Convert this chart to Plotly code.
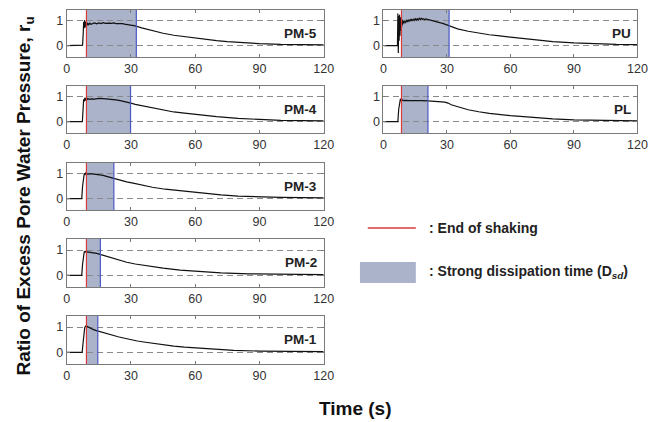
import plotly.graph_objects as go

# Pore-pressure ratio time histories (time in s, r_u)
pm5_t = [0, 5, 7.4, 7.7, 7.9, 8.1, 8.3, 8.5, 8.7, 8.9, 9.1, 9.3, 9.5, 9.7, 9.9, 10.3, 10.8, 11.3, 12, 13,
         14, 15, 16, 17, 18, 19, 20, 21, 22, 23, 24, 25, 26, 27, 28, 29, 30, 31, 32, 35,
         40, 45, 50, 55, 60, 65, 70, 75, 80, 90, 100, 110, 120]
pm5_ru = [0, 0, 0.02, 0.5, 0.95, 0.7, 1.03, 0.72, 0.97, 0.78, 0.95, 0.8, 0.93, 0.83, 0.9, 0.85, 0.91, 0.86, 0.89, 0.92,
          0.88, 0.92, 0.89, 0.93, 0.9, 0.92, 0.91, 0.9, 0.92, 0.89, 0.9, 0.88, 0.89, 0.87, 0.86, 0.85, 0.84, 0.82, 0.8, 0.72,
          0.6, 0.5, 0.42, 0.36, 0.3, 0.25, 0.2, 0.16, 0.13, 0.08, 0.05, 0.04, 0.03]

pm4_t = [0, 7.3, 7.6, 7.9, 8.2, 8.5, 8.8, 9.1, 9.4, 9.8, 10.5, 11.5, 13, 15, 17, 19, 21, 23, 25, 27,
         29, 30, 32, 35, 40, 45, 50, 55, 60, 70, 80, 90, 100, 120]
pm4_ru = [0, 0.0, 0.45, 0.9, 0.82, 0.97, 0.85, 0.95, 0.88, 0.93, 0.9, 0.92, 0.91, 0.94, 0.93, 0.92, 0.9, 0.88, 0.85, 0.82,
          0.78, 0.75, 0.7, 0.65, 0.55, 0.46, 0.39, 0.34, 0.29, 0.2, 0.13, 0.08, 0.05, 0.03]

pm3_t = [0, 7.0, 7.4, 7.8, 8.2, 8.6, 9.0, 9.5, 10, 11, 12, 13, 15, 17, 19, 21, 23, 25, 28, 31,
         35, 40, 46, 54, 62, 72, 80, 90, 100, 120]
pm3_ru = [0, 0.0, 0.5, 0.9, 1.02, 0.98, 1.05, 0.99, 1.0, 1.0, 1.0, 0.99, 0.98, 0.94, 0.89, 0.84, 0.79, 0.74, 0.68, 0.63,
          0.55, 0.46, 0.38, 0.3, 0.22, 0.15, 0.1, 0.07, 0.05, 0.03]

pm2_t = [0, 7.0, 7.4, 7.8, 8.2, 8.6, 9.0, 9.5, 10.5, 12, 14, 16, 19, 22, 25, 28, 32, 38, 45, 53,
         62, 72, 85, 100, 120]
pm2_ru = [0, 0.0, 0.45, 0.85, 0.95, 0.92, 0.96, 0.93, 0.92, 0.9, 0.87, 0.82, 0.74, 0.66, 0.59, 0.52, 0.45, 0.37, 0.29, 0.21,
          0.15, 0.1, 0.06, 0.04, 0.03]

pm1_t = [0, 7.2, 7.6, 8.0, 8.4, 8.8, 9.2, 9.6, 10, 11, 12, 13.5, 15, 17, 19, 21.5, 24, 27, 30, 33,
         36, 40, 44, 50, 55, 60, 66, 72, 78, 90, 100, 120]
pm1_ru = [0, 0.0, 0.35, 0.75, 0.98, 1.04, 1.06, 1.02, 1.0, 0.96, 0.92, 0.87, 0.83, 0.78, 0.73, 0.67, 0.62, 0.56, 0.5, 0.45,
          0.41, 0.36, 0.31, 0.25, 0.21, 0.18, 0.14, 0.11, 0.08, 0.05, 0.04, 0.03]

pu_t = [0, 6.6, 6.8, 7.0, 7.2, 7.4, 7.6, 7.8, 8.0, 8.2, 8.4, 8.6, 8.8, 9.0, 9.3, 9.6, 10, 10.5, 11, 11.5,
        12, 12.5, 13, 13.5, 14, 14.5, 15, 15.5, 16, 16.5, 17, 17.5, 18, 18.5, 19, 19.5, 20, 21, 22, 23,
        24, 25, 26, 27, 28, 29, 30, 31, 33, 35, 40, 45, 50, 55, 60, 70, 80, 90, 100, 110, 120]
pu_ru = [0, 0.0, 1.3, -0.3, 1.2, 0.2, 1.25, 0.4, 1.15, 0.6, 1.1, 0.75, 1.05, 0.85, 1.0, 0.9, 0.98, 0.93, 1.04, 0.96,
         1.05, 0.98, 1.08, 1.0, 1.07, 1.02, 1.1, 1.03, 1.09, 1.04, 1.12, 1.05, 1.1, 1.06, 1.09, 1.05, 1.08, 1.06, 1.05, 1.03,
         1.0, 0.98, 0.95, 0.92, 0.9, 0.87, 0.84, 0.8, 0.73, 0.68, 0.58, 0.5, 0.44, 0.39, 0.34, 0.24, 0.16, 0.11, 0.07, 0.05, 0.04]

pl_t = [0, 6.8, 7.2, 7.6, 8.0, 8.4, 8.8, 9.3, 10, 12, 15, 18, 21, 24, 27, 29, 30.5, 32, 36, 40,
        45, 50, 60, 70, 80, 90, 100, 120]
pl_ru = [0, 0.0, 0.5, 0.85, 0.92, 0.84, 0.88, 0.85, 0.86, 0.85, 0.86, 0.85, 0.84, 0.83, 0.81, 0.79, 0.75, 0.68, 0.58, 0.48,
         0.4, 0.33, 0.24, 0.16, 0.11, 0.07, 0.05, 0.03]

panel_names = ["PM-5", "PM-4", "PM-3", "PM-2", "PM-1", "PU", "PL"]
panel_t = [pm5_t, pm4_t, pm3_t, pm2_t, pm1_t, pu_t, pl_t]
panel_ru = [pm5_ru, pm4_ru, pm3_ru, pm2_ru, pm1_ru, pu_ru, pl_ru]
end_of_shaking = [9.2, 9.2, 9.2, 9.2, 9.2, 8.5, 8.5]      # s
dsd_end = [32.5, 29.8, 22.0, 15.7, 14.5, 31.0, 21.0]       # s, end of strong dissipation

x_ticks = [0, 30, 60, 90, 120]
y_ticks = [0, 1]

W, H = 671, 422
# panel boxes in pixels: (left, right, top, bottom)
boxes = [
    (65, 327, 10, 57), (65, 327, 86, 133), (65, 327, 163, 210),
    (65, 327, 239, 287), (65, 327, 316, 364),
    (388, 647, 10, 57), (388, 647, 86, 133),
]

FONT = "Liberation Sans, Arial, sans-serif"
SHADE = "#abb3cb"
RED = "#d93a3a"
BLUE = "#4a58c4"
FRAME = "#7a7a7a"

fig = go.Figure()
layout = dict(
    width=W, height=H, margin=dict(l=0, r=0, t=0, b=0),
    paper_bgcolor="white", plot_bgcolor="white", showlegend=False,
    font=dict(family=FONT, color="#333333"),
)
shapes, annotations = [], []

for i, name in enumerate(panel_names):
    k = i + 1
    xa = "xaxis" if k == 1 else f"xaxis{k}"
    ya = "yaxis" if k == 1 else f"yaxis{k}"
    xr = "x" if k == 1 else f"x{k}"
    yr = "y" if k == 1 else f"y{k}"
    l, r, t, b = boxes[i]
    layout[xa] = dict(
        domain=[l / W, r / W], anchor=yr, range=[0, 120],
        tickvals=x_ticks, ticks="inside", ticklen=3, tickcolor=FRAME,
        showline=True, linecolor=FRAME, linewidth=1, mirror="allticks",
        showgrid=False, zeroline=False,
        tickfont=dict(size=12.5, color="#333333", family=FONT),
    )
    layout[ya] = dict(
        domain=[1 - b / H, 1 - t / H], anchor=xr, range=[-0.46, 1.44],
        tickvals=y_ticks, ticks="inside", ticklen=3, tickcolor=FRAME,
        showline=True, linecolor=FRAME, linewidth=1, mirror="allticks",
        showgrid=True, gridcolor="#8a8a8a", gridwidth=1, griddash="6px,4px",
        zeroline=False,
        tickfont=dict(size=12.5, color="#333333", family=FONT),
    )
    fig.add_trace(go.Scatter(
        x=panel_t[i], y=panel_ru[i], mode="lines", xaxis=xr, yaxis=yr,
        line=dict(color="#111111", width=1.2), hoverinfo="skip",
    ))
    # strong-dissipation window, end of shaking and end of window
    shapes.append(dict(type="rect", xref=xr, yref=f"{yr} domain",
                       x0=end_of_shaking[i], x1=dsd_end[i], y0=0, y1=1,
                       fillcolor=SHADE, line=dict(width=0), layer="below"))
    shapes.append(dict(type="line", xref=xr, yref=f"{yr} domain",
                       x0=end_of_shaking[i], x1=end_of_shaking[i], y0=0, y1=1,
                       line=dict(color=RED, width=1.2), layer="above"))
    shapes.append(dict(type="line", xref=xr, yref=f"{yr} domain",
                       x0=dsd_end[i], x1=dsd_end[i], y0=0, y1=1,
                       line=dict(color=BLUE, width=1.2), layer="above"))
    annotations.append(dict(
        text=f"<b>{name}</b>", xref=f"{xr} domain", yref=yr, x=0.982, y=0.5,
        xanchor="right", yanchor="middle", showarrow=False,
        font=dict(size=13.5, color="#222222", family=FONT),
    ))

# legend key
shapes.append(dict(type="line", xref="paper", yref="paper",
                   x0=372 / W, x1=421 / W, y0=1 - 228 / H, y1=1 - 228 / H,
                   line=dict(color=RED, width=1.5)))
shapes.append(dict(type="rect", xref="paper", yref="paper",
                   x0=364 / W, x1=421 / W, y0=1 - 283 / H, y1=1 - 262 / H,
                   fillcolor=SHADE, line=dict(width=0)))
annotations.append(dict(text="<b>: End of shaking</b>", xref="paper", yref="paper",
                        x=432 / W, y=1 - 228 / H, xanchor="left", yanchor="middle",
                        showarrow=False, font=dict(size=14, color="#222222", family=FONT)))
annotations.append(dict(text="<b>: Strong dissipation time (D<sub><i>sd</i></sub>)</b>",
                        xref="paper", yref="paper",
                        x=432 / W, y=1 - 272 / H, xanchor="left", yanchor="middle",
                        showarrow=False, font=dict(size=14, color="#222222", family=FONT)))

# axis titles
annotations.append(dict(text="<b>Ratio of Excess Pore Water Pressure, r<sub>u</sub></b>",
                        xref="paper", yref="paper", x=22 / W, y=1 - 196 / H,
                        xanchor="center", yanchor="middle", textangle=-90, showarrow=False,
                        font=dict(size=19, color="#111111", family=FONT)))
annotations.append(dict(text="<b>Time (s)</b>", xref="paper", yref="paper",
                        x=359 / W, y=1 - 408 / H, xanchor="center", yanchor="middle",
                        showarrow=False, font=dict(size=19, color="#111111", family=FONT)))

layout["shapes"] = shapes
layout["annotations"] = annotations
fig.update_layout(**layout)
fig.write_html("out.html")
